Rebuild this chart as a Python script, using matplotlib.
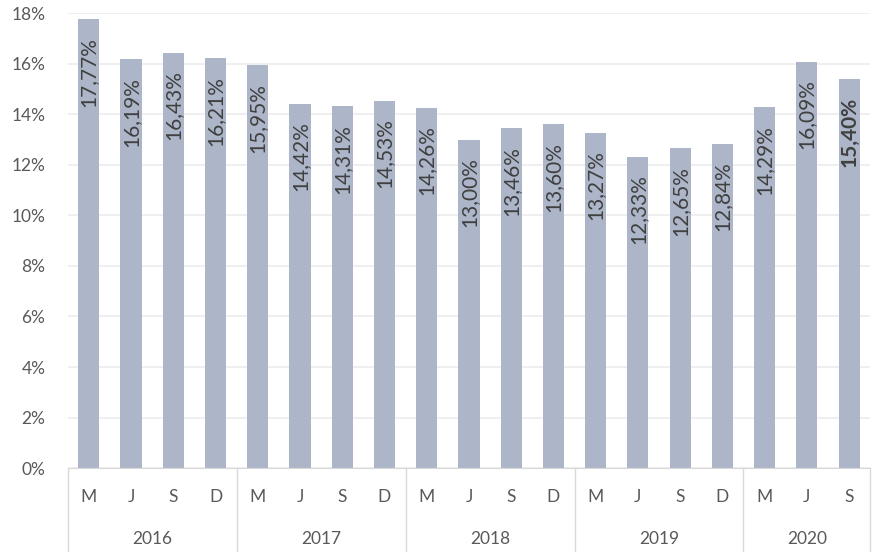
import matplotlib.pyplot as plt
import numpy as np

plt.rcParams['font.family'] = ['Lato', 'DejaVu Sans']

months = ['M', 'J', 'S', 'D'] * 4 + ['M', 'J', 'S']
years = ['2016', '2017', '2018', '2019', '2020']
year_sizes = [4, 4, 4, 4, 3]
values = [17.77, 16.19, 16.43, 16.21,
          15.95, 14.42, 14.31, 14.53,
          14.26, 13.00, 13.46, 13.60,
          13.27, 12.33, 12.65, 12.84,
          14.29, 16.09, 15.40]

bar_color = '#adb6c9'
text_color = '#595959'
grid_color = '#ececec'

fig = plt.figure(figsize=(8.79, 5.52), dpi=100)
ax = fig.add_axes([0.077, 0.152, 0.913, 0.824])

x = np.arange(len(values))
ax.bar(x, values, width=0.5, color=bar_color, zorder=2)

for i, v in enumerate(values):
    label = f'{v:.2f}%'.replace('.', ',')
    bold = i == len(values) - 1
    ax.text(i, v - 0.7, label, rotation=90, ha='center', va='top',
            fontsize=15, color='#404040', zorder=3,
            fontweight='bold' if bold else 'normal')

ax.set_xlim(-0.5, len(values) - 0.5)
ax.set_ylim(0, 18)
ax.set_yticks(np.arange(0, 19, 2))
ax.set_yticklabels([f'{t}%' for t in range(0, 19, 2)])
ax.yaxis.grid(True, color=grid_color, linewidth=1.2, zorder=0)
ax.tick_params(axis='y', length=0, labelsize=12.5, labelcolor=text_color, pad=16)
ax.set_xticks([])
for s in ['top', 'right', 'left']:
    ax.spines[s].set_visible(False)
ax.spines['bottom'].set_color('#d9d9d9')

# two-level category axis
trans = ax.get_xaxis_transform()
for i, m in enumerate(months):
    ax.text(i, -0.063, m, transform=trans, ha='center', va='center',
            fontsize=12.5, color=text_color)
start = 0
bounds = [-0.5]
for yr, n in zip(years, year_sizes):
    ax.text(start + (n - 1) / 2, -0.155, yr, transform=trans, ha='center',
            va='center', fontsize=12.5, color=text_color)
    start += n
    bounds.append(start - 0.5)
for b in bounds:
    ax.plot([b, b], [0, -0.2], transform=trans, color='#d9d9d9',
            linewidth=1, clip_on=False)

fig.savefig('out.png', dpi=100)
